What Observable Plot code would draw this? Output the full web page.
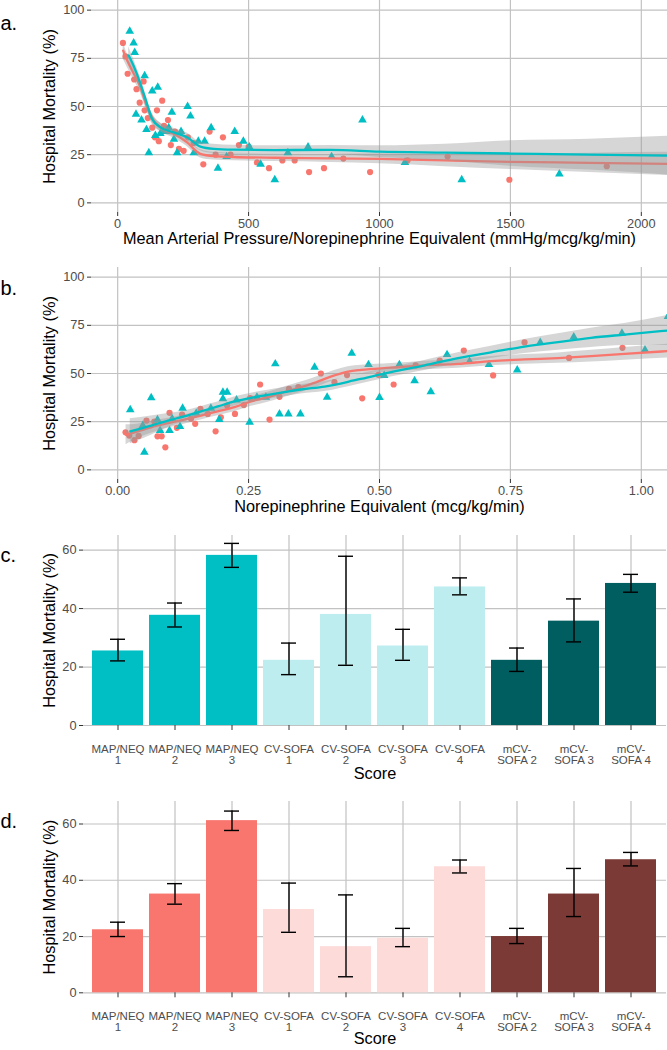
<!DOCTYPE html>
<html>
<head>
<meta charset="utf-8">
<script src="https://cdn.jsdelivr.net/npm/d3@7"></script>
<script src="https://cdn.jsdelivr.net/npm/@observablehq/plot@0.6"></script>
<style>
  html, body { margin: 0; padding: 0; background: #fff; }
  #wrap { position: relative; width: 667px; height: 1050px; overflow: hidden; background: #fff; }
</style>
</head>
<body>
<div id="wrap"></div>
<script>
// ---------------- DATA ----------------
const pctTicks = [0, 25, 50, 75, 100];
const aXTicks = [0, 500, 1000, 1500, 2000];
const bXTicks = [0, 0.25, 0.5, 0.75, 1.0];

// Panel a: MAP/NEQ vs hospital mortality  [x, y]
const aRedPoints = [[20,83],[30,76],[38,67],[63,64],[72,59],[84,52],[99,63],[103,48],[115,44],[132,39],[142,34],[150,48],[157,32],[170,53],[177,40],[192,43],[203,30],[219,37],[234,28],[252,27],[268,34],[290,31],[327,20],[351,37],[374,25],[402,34],[431,25],[463,30],[500,29],[532,21],[578,18],[629,22],[676,22],[731,16],[788,18],[862,23],[964,16],[1107,22],[1260,24],[1496,12],[1868,19]];
const aTealPoints = [[46,89],[61,83],[65,78],[70,46],[91,43],[103,66],[110,38],[119,26],[132,58],[144,35],[153,60],[163,36],[174,37],[186,37],[195,39],[207,47],[215,33],[227,26],[242,37],[267,50],[278,45],[291,26],[308,32],[332,32],[357,39],[383,18],[416,24],[447,37],[480,32],[503,29],[546,20],[600,12],[650,26],[727,29],[817,24],[935,43],[1097,21],[1314,12],[1687,15]];
// smooth fits [x, fit, lower, upper]
const aRedSmooth = [[21,79,74.5,83.5],[36,74,70.5,77.5],[55,68.7,65.5,71.9],[87,60,57,63],[112,50,47.3,52.7],[138,42.7,40.3,45.1],[163,39.2,37,41.4],[214,35.8,33.6,38],[265,31.4,29.2,33.6],[316,25.4,23.3,27.5],[367,24.2,22.2,26.2],[443,23.8,21.8,25.8],[600,23.4,21.4,25.4],[812,23.1,21,25.2],[1000,22.8,20.3,25.3],[1250,22,18.8,25.2],[1500,21.3,17.3,25.3],[1800,20.8,15.8,25.8],[2100,20.2,14.2,26.2]];
const aTealSmooth = [[42,76.5,72,81],[61,71,67.5,74.5],[87,61.8,58.5,65],[112,51.4,48.5,54.3],[131,43.6,41,46.2],[163,39.2,37,41.4],[214,36.6,34.5,38.7],[265,34,31.8,36.2],[316,29.2,27,31.4],[367,28,25.6,30.4],[443,27.6,25.3,29.9],[600,27.4,25.2,29.6],[812,27.5,25.2,29.8],[1000,26.6,23.6,29.6],[1250,26.1,21.8,30.4],[1500,25.6,19,32.2],[1800,25,17,33],[2100,24.5,14.5,34.5]];

// Panel b: norepinephrine equivalent vs hospital mortality
const bRedPoints = [[0.015,19.5],[0.022,17.8],[0.032,15.4],[0.040,17.6],[0.055,25.6],[0.070,25.1],[0.076,17.4],[0.084,17.4],[0.091,11.7],[0.099,29.6],[0.113,21.8],[0.123,28.7],[0.140,26.5],[0.148,23.9],[0.158,31.7],[0.172,29],[0.187,20],[0.197,27.3],[0.209,33.4],[0.224,29],[0.241,33.6],[0.253,37.3],[0.272,44.3],[0.290,26.1],[0.309,37.9],[0.327,42],[0.345,43],[0.388,50],[0.414,45.5],[0.438,49.2],[0.467,37.1],[0.498,49.3],[0.527,44.3],[0.569,54.2],[0.615,56.7],[0.661,61.9],[0.717,49],[0.777,66.1],[0.862,58.1],[0.964,63.3]];
const bTealPoints = [[0.024,31.2],[0.048,23],[0.051,9.1],[0.064,37.4],[0.076,26],[0.081,20.4],[0.099,20.4],[0.104,26.5],[0.119,22.5],[0.124,32],[0.150,29.4],[0.178,32],[0.194,26.1],[0.201,40.3],[0.209,40.3],[0.201,36.9],[0.227,36.3],[0.252,24.7],[0.266,37.7],[0.283,37.7],[0.301,55],[0.309,29],[0.326,29],[0.349,29],[0.376,53.3],[0.400,37.7],[0.447,60.5],[0.479,54.6],[0.500,37.5],[0.509,49],[0.538,54.6],[0.567,46.2],[0.598,40.5],[0.629,59.8],[0.672,56.3],[0.709,54.6],[0.763,51.8],[0.807,66.1],[0.871,68.9],[0.963,70.9],[1.007,62.2],[1.051,79.6]];
const bRedSmooth = [[0.016,18.2,13,23.4],[0.032,19.5,15.5,23.5],[0.064,22.1,19,25.2],[0.096,24.2,21.6,26.8],[0.127,26.1,23.7,28.5],[0.159,28.2,25.9,30.5],[0.191,30.4,28.1,32.7],[0.223,32.5,30.2,34.8],[0.255,35.5,33,38],[0.287,37.7,35.1,40.3],[0.318,40.3,37.6,43],[0.35,42.9,40.2,45.6],[0.37,44.6,41.9,47.3],[0.414,49,46.4,51.6],[0.44,51,48.5,53.5],[0.465,51.9,49.5,54.3],[0.522,53,50.8,55.2],[0.586,54.2,52,56.4],[0.65,55,52.7,57.3],[0.713,56.4,54,58.8],[0.777,57.3,54.8,59.8],[0.841,58,55.3,60.7],[0.904,59,56,62],[0.968,60.2,56.9,63.5],[1.05,61.6,58,65.2]];
const bTealSmooth = [[0.024,20,13.5,26.5],[0.064,23,18,28],[0.096,25.6,22,29.2],[0.127,27.7,24.8,30.6],[0.159,30.3,27.8,32.8],[0.191,32.9,30.6,35.2],[0.223,35.5,33.2,37.8],[0.255,37.4,35,39.8],[0.287,38.9,36.5,41.3],[0.318,40.3,37.9,42.7],[0.35,41.7,39.3,44.1],[0.395,43.2,40.6,45.8],[0.459,46.9,44.3,49.5],[0.522,50.7,48.2,53.2],[0.586,54.2,51.6,56.8],[0.65,58,55.2,60.8],[0.713,61,57.8,64.2],[0.777,64,60.4,67.6],[0.841,66.3,62,70.6],[0.904,68.5,63.5,73.5],[0.968,70.2,64.5,75.9],[1.05,72.3,64.5,80.1]];

// Panels c & d: mortality by score category
const scoreLabels = ["MAP/NEQ\n1","MAP/NEQ\n2","MAP/NEQ\n3","CV-SOFA\n1","CV-SOFA\n2","CV-SOFA\n3","CV-SOFA\n4","mCV-\nSOFA 2","mCV-\nSOFA 3","mCV-\nSOFA 4"];
const scoreGroups = ["MAP/NEQ","MAP/NEQ","MAP/NEQ","CV-SOFA","CV-SOFA","CV-SOFA","CV-SOFA","mCV-SOFA","mCV-SOFA","mCV-SOFA"];
const groupNames = ["MAP/NEQ","CV-SOFA","mCV-SOFA"];
const cTicks = [0, 20, 40, 60];
const cValues = [25.5, 37.7, 58.2, 22.3, 38.0, 27.2, 47.4, 22.3, 35.7, 48.6];
const cLower  = [22.1, 33.7, 54.1, 17.4, 20.6, 22.3, 44.7, 18.5, 28.6, 45.6];
const cUpper  = [29.5, 41.9, 62.3, 28.2, 57.9, 32.9, 50.5, 26.5, 43.3, 51.7];
const dValues = [22.4, 35.1, 61.2, 29.6, 16.4, 19.4, 44.8, 20.0, 35.1, 47.3];
const dLower  = [20.0, 31.5, 57.7, 21.5, 5.7, 16.4, 42.6, 17.5, 27.1, 45.1];
const dUpper  = [25.1, 38.8, 64.6, 39.0, 34.8, 22.9, 47.2, 22.9, 44.2, 49.9];

// ---------------- STYLE ----------------
const FONT = '"Liberation Sans", Arial, Helvetica, sans-serif';
const RED = "#F8766D", TEAL = "#00BFC4";
const GRID = "#c2c2c2", TICK = "#333333", TICKTXT = "#4d4d4d";
const wrap = document.getElementById("wrap");

function place(svg, top) {
  svg.style.position = "absolute";
  svg.style.top = top + "px";
  svg.style.left = "0px";
  wrap.appendChild(svg);
}

function scatterPanel(o) {
  const toPt = a => ({x: a[0], y: a[1]});
  const toSm = a => ({x: a[0], y: a[1], lo: a[2], hi: a[3]});
  const red = o.redPts.map(toPt), teal = o.tealPts.map(toPt);
  const rs = o.redSm.map(toSm), ts = o.tealSm.map(toSm);
  return Plot.plot({
    width: 667, height: o.height,
    marginTop: o.mt, marginBottom: o.mb, marginLeft: 91, marginRight: 0,
    style: {fontFamily: FONT, fontSize: "12.8px", background: "white", color: "black", overflow: "visible"},
    x: {domain: o.xDomain},
    y: {domain: [-5, 105]},
    marks: [
      Plot.gridX(o.xTicks, {stroke: GRID, strokeOpacity: 1, strokeWidth: 1.2}),
      Plot.gridY(pctTicks, {stroke: GRID, strokeOpacity: 1, strokeWidth: 1.2}),
      Plot.dot(red, {x: "x", y: "y", r: 3.1, fill: RED, clip: true}),
      Plot.dot(teal, {x: "x", y: "y", r: 3.2, symbol: "triangle", fill: TEAL, clip: true}),
      Plot.areaY(rs, {x: "x", y1: "lo", y2: "hi", fill: "#999999", fillOpacity: 0.4, curve: "monotone-x", clip: true}),
      Plot.line(rs, {x: "x", y: "y", stroke: RED, strokeWidth: 2.3, curve: "monotone-x", clip: true}),
      Plot.areaY(ts, {x: "x", y1: "lo", y2: "hi", fill: "#999999", fillOpacity: 0.4, curve: "monotone-x", clip: true}),
      Plot.line(ts, {x: "x", y: "y", stroke: TEAL, strokeWidth: 2.3, curve: "monotone-x", clip: true}),
      Plot.axisX(o.xTicks, {tickSize: 4, tickPadding: 2, tickFormat: o.xFormat, fontSize: 12.8, stroke: TICK, fill: TICKTXT, label: null}),
      Plot.axisY(pctTicks, {tickSize: 4, tickPadding: 3, fontSize: 12.8, stroke: TICK, fill: TICKTXT, label: null}),
      Plot.text([o.xTitle], {text: d => d, frameAnchor: "bottom", textAnchor: "middle", dy: o.xTitleDy, fontSize: 16.3, fill: "black"}),
      Plot.text(["Hospital Mortality (%)"], {text: d => d, frameAnchor: "left", textAnchor: "middle", dx: -42, rotate: -90, fontSize: 16.3, fill: "black"}),
      Plot.text([o.tag], {text: d => d, frameAnchor: "top-left", dx: -91, dy: o.tagDy, textAnchor: "start", fontSize: 20, fill: "black"})
    ]
  });
}

function barPanel(o) {
  const rows = scoreLabels.map((label, i) => ({label, group: scoreGroups[i], value: o.values[i], lo: o.lower[i], hi: o.upper[i]}));
  return Plot.plot({
    width: 667, height: o.height,
    marginTop: o.mt, marginBottom: o.mb, marginLeft: 83, marginRight: 1,
    style: {fontFamily: FONT, fontSize: "12.8px", background: "white", color: "black", overflow: "visible"},
    x: {domain: scoreLabels, paddingInner: 0.1, paddingOuter: 0.15},
    y: {domain: o.yDomain},
    color: {domain: groupNames, range: o.colors},
    marks: [
      Plot.gridX(scoreLabels, {stroke: GRID, strokeOpacity: 1, strokeWidth: 1.2}),
      Plot.gridY(cTicks, {stroke: GRID, strokeOpacity: 1, strokeWidth: 1.2}),
      Plot.barY(rows, {x: "label", y: "value", fill: "group"}),
      Plot.ruleX(rows, {x: "label", y1: "lo", y2: "hi", stroke: "black", strokeWidth: 1.4}),
      Plot.tickY(rows, {x: "label", y: "hi", stroke: "black", strokeWidth: 1.4, insetLeft: 18, insetRight: 18}),
      Plot.tickY(rows, {x: "label", y: "lo", stroke: "black", strokeWidth: 1.4, insetLeft: 18, insetRight: 18}),
      Plot.axisX({tickSize: 5, tickPadding: 14, fontSize: 11.5, stroke: TICK, fill: TICKTXT, label: null, lineHeight: 0.98}),
      Plot.axisY(cTicks, {tickSize: 4, tickPadding: 3, fontSize: 12.8, stroke: TICK, fill: TICKTXT, label: null}),
      Plot.text(["Score"], {text: d => d, frameAnchor: "bottom", textAnchor: "middle", dy: o.xTitleDy, fontSize: 16.3, fill: "black"}),
      Plot.text(["Hospital Mortality (%)"], {text: d => d, frameAnchor: "left", textAnchor: "middle", dx: -34, rotate: -90, fontSize: 16.3, fill: "black"}),
      Plot.text([o.tag], {text: d => d, frameAnchor: "top-left", dx: -83, dy: o.tagDy, textAnchor: "start", fontSize: 20, fill: "black"})
    ]
  });
}

place(scatterPanel({
  height: 255, mt: 0, mb: 43, xDomain: [-100, 2100], xTicks: aXTicks, xFormat: d3.format("d"),
  xTitle: "Mean Arterial Pressure/Norepinephrine Equivalent (mmHg/mcg/kg/min)", xTitleDy: 31,
  redPts: aRedPoints, tealPts: aTealPoints, redSm: aRedSmooth, tealSm: aTealSmooth, tag: "a.", tagDy: 15.6
}), 0);

place(scatterPanel({
  height: 270, mt: 12, mb: 46, xDomain: [-0.05, 1.05], xTicks: bXTicks, xFormat: d3.format(".2f"),
  xTitle: "Norepinephrine Equivalent (mcg/kg/min)", xTitleDy: 32,
  redPts: bRedPoints, tealPts: bTealPoints, redSm: bRedSmooth, tealSm: bTealSmooth, tag: "b.", tagDy: 13.6
}), 255);

place(barPanel({
  height: 260, mt: 10, mb: 60, yDomain: [0, 65], values: cValues, lower: cLower, upper: cUpper,
  colors: ["#00BFC4", "#BEEDEF", "#005E61"], xTitleDy: 53, tag: "c.", tagDy: 12.6
}), 525);

place(barPanel({
  height: 260, mt: 11, mb: 57.7, yDomain: [0, 68], values: dValues, lower: dLower, upper: dUpper,
  colors: ["#F8766D", "#FCDBD9", "#7B3A36"], xTitleDy: 51.5, tag: "d.", tagDy: 12.6
}), 790);
</script>
</body>
</html>
